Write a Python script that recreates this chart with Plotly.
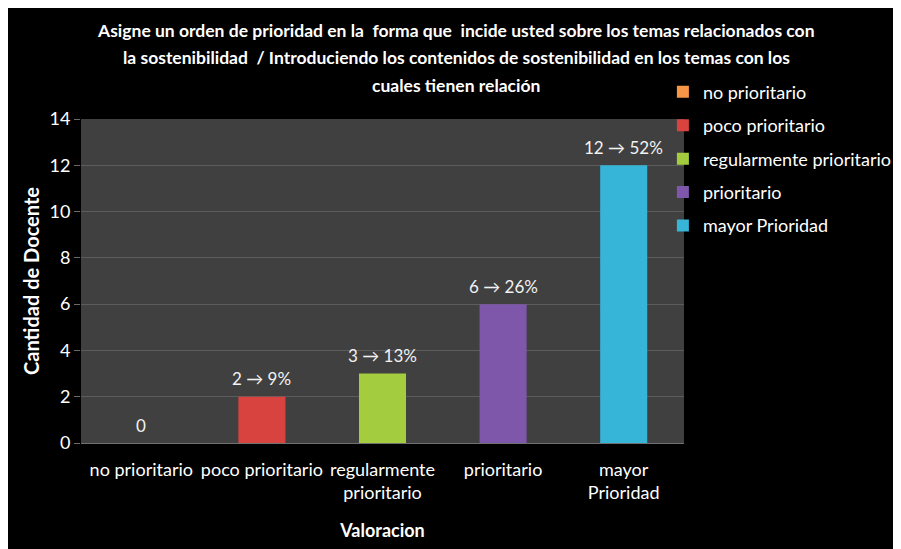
import plotly.graph_objects as go

# Data
categories = ["no prioritario", "poco prioritario", "regularmente prioritario",
              "prioritario", "mayor Prioridad"]
tick_labels = ["no prioritario", "poco prioritario", "regularmente<br>prioritario",
               "prioritario", "mayor<br>Prioridad"]
counts = [0, 2, 3, 6, 12]
percents = [None, 9, 13, 26, 52]
colors = ["#f79646", "#d8433f", "#a3cc3e", "#7f57aa", "#37b5d9"]
title_lines = [
    "Asigne un orden de prioridad en la  forma que  incide usted sobre los temas relacionados con",
    "la sostenibilidad  / Introduciendo los contenidos de sostenibilidad en los temas con los",
    "cuales tienen relación",
]

FONT = "Lato, Liberation Sans Narrow, sans-serif"

fig = go.Figure()
for cat, tick, n, p, col in zip(categories, tick_labels, counts, percents, colors):
    label = str(n) if p is None else f"{n} \u2192 {p}%"
    fig.add_trace(go.Bar(
        x=[tick], y=[n], name=cat, legendgroup=cat,
        marker=dict(color=col, line=dict(width=0)),
        width=0.39,
    ))
    # value label above the bar
    fig.add_annotation(
        x=tick, y=n, xref="x", yref="y", text=label, showarrow=False,
        yanchor="middle", yshift=18,
        font=dict(color="#f2f2f2", size=17, family=FONT),
    )

# title, one annotation per line so the spacing matches
for line, ypos in zip(title_lines, [1.272, 1.191, 1.102]):
    fig.add_annotation(
        text=f"<b>{line}</b>", xref="paper", yref="paper",
        x=0.622, y=ypos, xanchor="center", yanchor="middle",
        showarrow=False, font=dict(size=17.5, color="white", family=FONT),
    )

fig.update_layout(
    width=901, height=549,
    margin=dict(l=73, r=225, t=111, b=114),
    paper_bgcolor="black",
    plot_bgcolor="#404040",
    barmode="overlay",
    font=dict(family=FONT, color="white", size=17),
    legend=dict(
        x=0.965, xanchor="left", y=1.14, yanchor="top",
        traceorder="grouped", tracegroupgap=7,
        font=dict(size=18, color="white", family=FONT),
        bgcolor="rgba(0,0,0,0)", itemwidth=30,
    ),
    xaxis=dict(
        categoryorder="array", categoryarray=tick_labels,
        showgrid=False, tickfont=dict(size=18, color="white"),
        showline=True, linecolor="#707070", linewidth=1,
        ticks="", ticklabelstandoff=10,
        title=dict(text="<b>Valoracion</b>", font=dict(size=18, color="white"), standoff=22),
    ),
    yaxis=dict(
        range=[0, 14], dtick=2, gridcolor="#5c5c5c", gridwidth=1,
        zeroline=False, ticks="outside", ticklen=6, tickcolor="#6a6a6a",
        tickfont=dict(size=18, color="white"),
        title=dict(text="<b>Cantidad de Docente</b>", font=dict(size=20, color="white"), standoff=4),
    ),
)

fig.write_html("out.html")
